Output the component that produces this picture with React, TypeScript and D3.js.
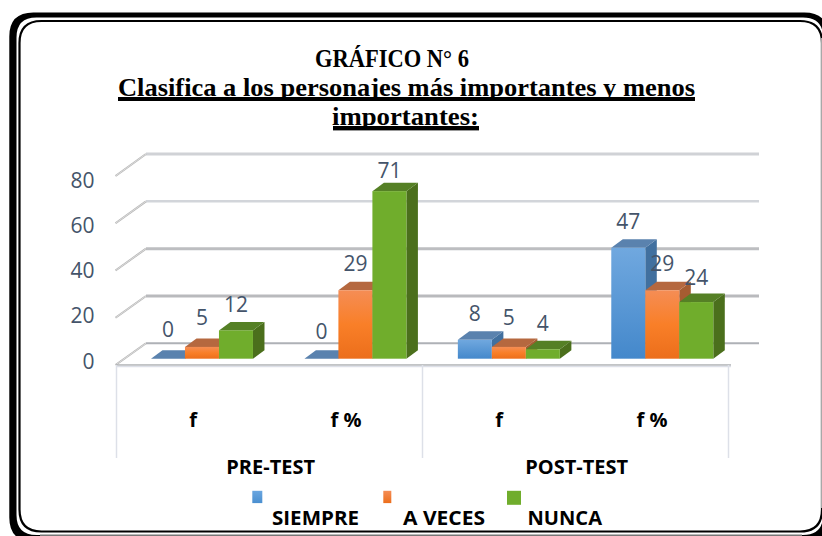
import React from "react";
import * as d3 from "d3";

const groups = ["PRE-TEST", "POST-TEST"];
const categories = ["f", "f %", "f", "f %"];
const seriesNames = ["SIEMPRE", "A VECES", "NUNCA"];
const siempre = [0, 0, 8, 47];
const aVeces = [5, 29, 5, 29];
const nunca = [12, 71, 4, 24];
const yTicks = [0, 20, 40, 60, 80];
const titleLines = ["GRÁFICO N° 6", "Clasifica a los personajes más importantes y menos", "importantes:"];

// Label lift above each bar's front top, per series and category (px)
const labelLift = [
  [29, 27, 26, 26],
  [29, 27, 29, 27],
  [26, 21, 26, 25],
];

const seriesValues = [siempre, aVeces, nunca];
const palette = [
  { id: "b", top: "#5a82ae", side: "#41709f", a: "#70a8df", b: "#4488cb" },
  { id: "o", top: "#b5683f", side: "#a55c31", a: "#f58d55", b: "#ec6e1b" },
  { id: "g", top: "#558025", side: "#4b6f1c", a: "#70ad2c", b: "#70ad2c" },
];

const W = 822;
const H = 536;
const DX = 11.5;
const DY = -8.5;
const BASE = 358.7;
const BAR_W = 34;

const y = d3.scaleLinear().domain([0, 80]).range([BASE, BASE - 80 * 2.36]);
const backY = d3.scaleLinear().domain([0, 80]).range([343.3, 154]);
const sideFrontY = d3.scaleLinear().domain([0, 80]).range([365, 176]);
const labelY = d3.scaleLinear().domain([0, 80]).range([361, 180]);
const band = d3.scaleBand<number>().domain(d3.range(4)).range([125.25, 739]);
const inner = d3.scaleBand<number>().domain(d3.range(3)).range([0, BAR_W * 3]);
const barX = (c: number, s: number) =>
  (band(c) as number) + (band.bandwidth() - BAR_W * 3) / 2 + (inner(s) as number);

const poly = (pts: [number, number][]) => pts.map((p) => p.join(",")).join(" ");

const roundRect = (x: number, yy: number, w: number, h: number, r: number) => {
  const p = d3.path();
  p.moveTo(x + r, yy);
  p.lineTo(x + w - r, yy);
  p.quadraticCurveTo(x + w, yy, x + w, yy + r);
  p.lineTo(x + w, yy + h - r);
  p.quadraticCurveTo(x + w, yy + h, x + w - r, yy + h);
  p.lineTo(x + r, yy + h);
  p.quadraticCurveTo(x, yy + h, x, yy + h - r);
  p.lineTo(x, yy + r);
  p.quadraticCurveTo(x, yy, x + r, yy);
  p.closePath();
  return p.toString();
};

const gridStyle: Record<number, { c: string; w: number }> = {
  0: { c: "#aeb1b6", w: 2 },
  20: { c: "#b9babd", w: 3 },
  40: { c: "#bdbec1", w: 3 },
  60: { c: "#d2d5da", w: 2.5 },
  80: { c: "#d0d2d6", w: 3 },
};

const sans = "'Open Sans', sans-serif";
const serif = "'Liberation Serif', serif";

export default function App() {
  const legendSquares = [
    { x: 252.3, w: 10, h: 12.3, fill: "url(#legB)" },
    { x: 383.3, w: 8, h: 12.3, fill: "url(#legO)" },
    { x: 507, w: 14, h: 14, fill: "#70ad2c" },
  ];
  const legendText = [
    { x: 272, len: 87 },
    { x: 403, len: 82 },
    { x: 527.5, len: 74.5 },
  ];
  const catX = [193, 346, 499, 652];
  const groupX = [270.7, 576.7];
  const seps = [116.5, 422.5, 728.5];

  return (
    <svg
      width={W}
      height={H}
      viewBox={`0 0 ${W} ${H}`}
      style={{ position: "fixed", left: 0, top: 0, background: "#fff", display: "block" }}
    >
      <defs>
        {palette.map((p) => (
          <linearGradient key={p.id} id={`grad-${p.id}`} x1="0" y1="0" x2="0" y2="1">
            <stop offset="0" stopColor={p.a} />
            {p.id === "o" && <stop offset="0.5" stopColor="#f97f28" />}
            <stop offset="1" stopColor={p.b} />
          </linearGradient>
        ))}
        <linearGradient id="legB" x1="0" y1="0" x2="0" y2="1">
          <stop offset="0" stopColor="#6aa6e0" />
          <stop offset="1" stopColor="#4a8fd0" />
        </linearGradient>
        <linearGradient id="legO" x1="0" y1="0" x2="0" y2="1">
          <stop offset="0" stopColor="#f58d55" />
          <stop offset="1" stopColor="#ec6e1b" />
        </linearGradient>
      </defs>

      {/* frame */}
      <path
        fillRule="evenodd"
        fill="#000"
        d={roundRect(9.3, 12.5, 819, 529, 24) + roundRect(16.5, 17.5, 806.5, 517.5, 20)}
      />
      <path d={roundRect(19.5, 21, 802.5, 510.5, 22)} fill="#fff" stroke="#000" strokeWidth={2.2} />
      <line x1={821.6} x2={821.6} y1={38} y2={508} stroke="#a8a8a8" strokeWidth={1.4} />
      <line x1={40} x2={802} y1={535.2} y2={535.2} stroke="#777" strokeWidth={1.6} />

      {/* title */}
      <g fontFamily={serif} fontWeight="bold" fill="#000" fontSize={25}>
        <text x={315} y={66.5} textLength={154} lengthAdjust="spacingAndGlyphs">{titleLines[0]}</text>
        <text x={118} y={96} textLength={577} lengthAdjust="spacingAndGlyphs">{titleLines[1]}</text>
        <text x={332} y={125} textLength={147} lengthAdjust="spacingAndGlyphs">{titleLines[2]}</text>
      </g>
      <rect x={118} y={97} width={577} height={4} fill="#000" />
      <rect x={333} y={126} width={146} height={4.4} fill="#000" />

      {/* gridlines and side wall */}
      {yTicks.map((t) => (
        <g key={t}>
          <line
            x1={146}
            x2={759}
            y1={backY(t)}
            y2={backY(t)}
            stroke={gridStyle[t].c}
            strokeWidth={gridStyle[t].w}
          />
          <line x1={115.5} x2={146} y1={sideFrontY(t)} y2={backY(t)} stroke="#b4b4b4" strokeWidth={2} />
          <line x1={115.5} x2={146} y1={sideFrontY(t)} y2={backY(t)} stroke="#ececec" strokeWidth={0.7} />
        </g>
      ))}

      {/* floor front edge and separators */}
      <line x1={116} x2={731} y1={365} y2={365} stroke="#aeb0b3" strokeWidth={1.3} />
      <line x1={116} x2={731} y1={366.5} y2={366.5} stroke="#dde0e8" strokeWidth={1.6} />
      {seps.map((x) => (
        <line key={x} x1={x} x2={x} y1={365} y2={458} stroke="#dde0e8" strokeWidth={1.5} />
      ))}

      {/* bars */}
      {categories.map((_, c) => (
        <g key={c}>
          {seriesValues.map((vals, s) => {
            const x0 = barX(c, s);
            const x1 = x0 + BAR_W;
            const top = y(vals[c]);
            const p = palette[s];
            return (
              <g key={s}>
                {vals[c] > 0 && (
                  <polygon
                    fill={p.side}
                    points={poly([
                      [x1, top],
                      [x1 + DX, top + DY],
                      [x1 + DX, BASE + DY],
                      [x1, BASE],
                    ])}
                  />
                )}
                <polygon
                  fill={p.top}
                  points={poly([
                    [x0, top],
                    [x0 + DX, top + DY],
                    [x1 + DX, top + DY],
                    [x1, top],
                  ])}
                />
                {vals[c] > 0 && (
                  <rect x={x0} y={top} width={BAR_W} height={BASE - top} fill={`url(#grad-${p.id})`} />
                )}
              </g>
            );
          })}
        </g>
      ))}

      {/* data labels */}
      <g fontFamily={sans} fontSize={21} fill="#44546a" textAnchor="middle">
        {categories.map((_, c) =>
          seriesValues.map((vals, s) => (
            <text
              key={`${c}-${s}`}
              x={barX(c, s) + BAR_W / 2}
              y={y(vals[c]) - labelLift[s][c]}
              dy="0.36em"
            >
              {vals[c]}
            </text>
          ))
        )}
      </g>

      {/* y axis labels */}
      <g fontFamily={sans} fontSize={21} fill="#44546a" textAnchor="end">
        {yTicks.map((t) => (
          <text key={t} x={94.5} y={labelY(t)} dy="0.36em">
            {t}
          </text>
        ))}
      </g>

      {/* category labels */}
      <g fontFamily={sans} fontWeight="bold" fontSize={20} fill="#000" textAnchor="middle">
        {categories.map((cat, i) => (
          <text key={i} x={catX[i]} y={427}>
            {cat}
          </text>
        ))}
        {groups.map((g, i) => (
          <text key={g} x={groupX[i]} y={473.7}>
            {g}
          </text>
        ))}
      </g>

      {/* legend */}
      {legendSquares.map((l, i) => (
        <rect key={i} x={l.x} y={490.8} width={l.w} height={l.h} fill={l.fill} />
      ))}
      <g fontFamily={sans} fontWeight="bold" fontSize={20} fill="#000">
        {seriesNames.map((n, i) => (
          <text key={n} x={legendText[i].x} y={524.7} textLength={legendText[i].len} lengthAdjust="spacingAndGlyphs">
            {n}
          </text>
        ))}
      </g>
    </svg>
  );
}
